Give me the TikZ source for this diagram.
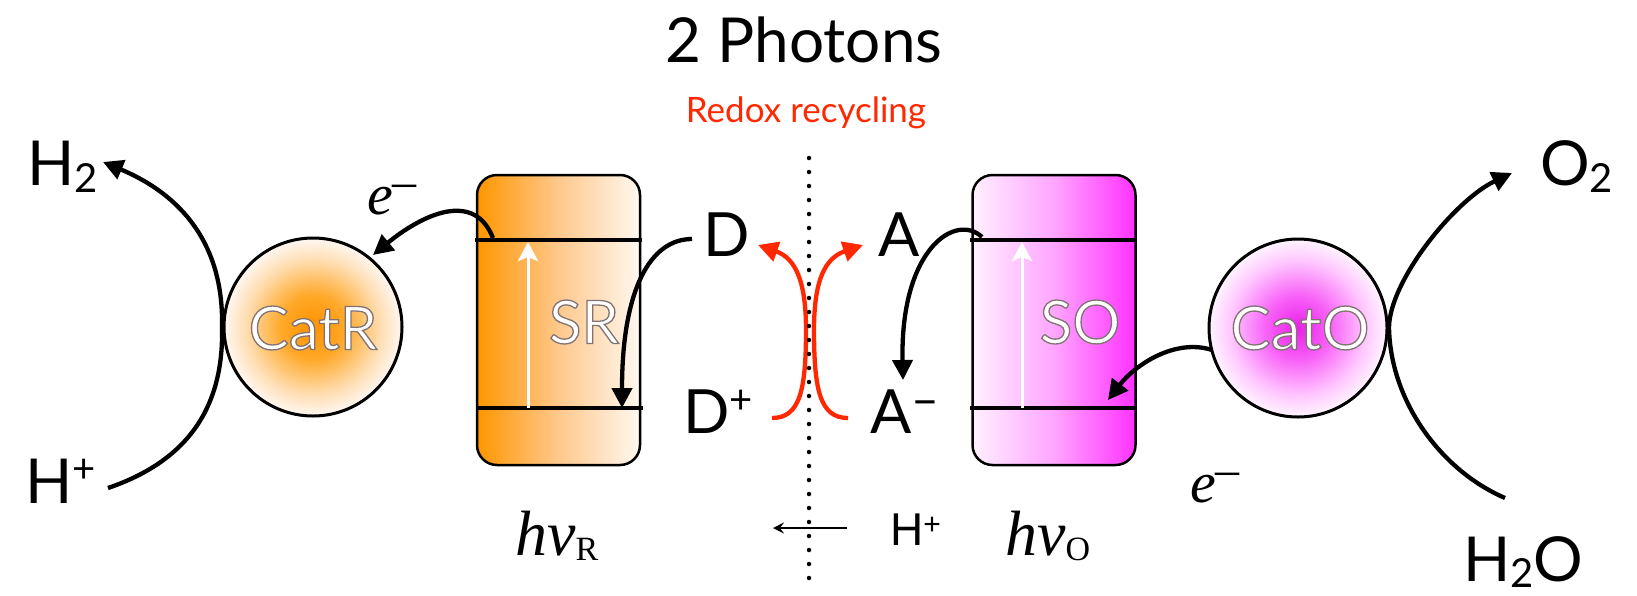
\documentclass[tikz,border=0pt]{standalone}
\usepackage{fontspec}
\setmainfont{Lato}
\newfontfamily\serifit{Liberation Serif}
\newfontfamily\helv{Liberation Sans}
\usetikzlibrary{arrows.meta}
\newcommand\fsz[1]{\fontsize{#1}{#1}\selectfont}
\definecolor{redox}{RGB}{255,40,0}
\definecolor{orL}{RGB}{255,150,0}
\definecolor{orM}{RGB}{255,200,140}
\definecolor{orR}{RGB}{255,248,240}
\definecolor{mgL}{RGB}{255,240,255}
\definecolor{mgM}{RGB}{255,165,255}
\definecolor{mgR}{RGB}{255,50,255}
\pgfdeclareradialshading{catRshade}{\pgfpoint{0bp}{0bp}}{rgb(0bp)=(1,0.57,0); rgb(9bp)=(1,0.66,0.16); rgb(19bp)=(1,0.87,0.7); rgb(25bp)=(1,0.97,0.95); rgb(50bp)=(1,0.97,0.95)}
\pgfdeclareradialshading{catOshade}{\pgfpoint{0bp}{0bp}}{rgb(0bp)=(0.92,0.12,0.92); rgb(9bp)=(0.97,0.38,0.97); rgb(19bp)=(1,0.78,1); rgb(25bp)=(1,0.96,1); rgb(50bp)=(1,0.96,1)}
% white text with a soft grey edge (text render mode fill+stroke)
\newcommand\glowtext[1]{\special{pdf:literal direct 2 Tr 1.3 w 0.5 0.45 0.45 RG}#1\special{pdf:literal direct 0 Tr}}
\begin{document}
\begin{tikzpicture}[x=1pt,y=-1pt,
  txt/.style={inner sep=0pt, anchor=base west},
  lbl/.style={inner sep=0pt, text=white, font=\fsz{60}},
  blk/.style={line width=4.3pt, -{Triangle[length=20pt,width=20pt]}},
  redarr/.style={draw=redox, line width=4.3pt, -{Triangle[length=20pt,width=20pt]}},
  level/.style={line width=4pt},
  whitearr/.style={draw=white, line width=3pt, -{Stealth[length=19pt,width=20pt,inset=4pt]}},
  cat/.style={circle, draw, line width=3pt, minimum size=178pt, inner sep=0pt},
  sbox/.style={rectangle, draw, line width=2.5pt, rounded corners=20pt, minimum width=163pt, minimum height=290pt, inner sep=0pt}]
\useasboundingbox (0,0) rectangle (1637,595);

% catalysts
\node[cat, shade, shading=catRshade] (CatR) at (313,327) {};
\node[cat, shade, shading=catOshade] (CatO) at (1298,328) {};

% sensitizer boxes
\node[sbox, left color=orL, right color=orR, middle color=orM] (SR) at (558.5,320) {};
\node[sbox, left color=mgL, right color=mgR, middle color=mgM] (SO) at (1054,320) {};

% levels
\draw[level] (475,240) -- (642,240);
\draw[level] (477,408) -- (643,408);
\draw[level] (970,240) -- (1137,240);
\draw[level] (970,408) -- (1137,408);

% excitation arrows
\coordinate (srB) at (528,408); \coordinate (srT) at (528,242);
\coordinate (soB) at (1022,408); \coordinate (soT) at (1022,242);
\draw[whitearr] (srB) -- (srT);
\draw[whitearr] (soB) -- (soT);

% labels
\node[lbl] (CatRt) at (313,328) {\glowtext{CatR}};
\node[lbl] (SRt) at (584,322) {\glowtext{SR}};
\node[lbl] (SOt) at (1080,322) {\glowtext{SO}};
\node[lbl] (CatOt) at (1300,328) {\glowtext{CatO}};

% texts
\node[inner sep=0pt, anchor=base] (title) at (804,62) {\fsz{62}2 Photons};
\node[inner sep=0pt, anchor=base, text=redox] (redoxt) at (806,122) {\fsz{35}Redox recycling};
\node[txt] (H2) at (27,185) {\fsz{62}H\raisebox{-7pt}{\fsz{40}2}};
\node[txt] (Hp) at (25,503) {\fsz{62}H\raisebox{21pt}{\fsz{40}+}};
\node[txt] (D) at (703,256) {\fsz{61}D};
\node[txt] (Dp) at (683,433) {\fsz{61}D\raisebox{20pt}{\fsz{40}+}};
\node[txt] (A) at (878,256) {\fsz{61}A};
\node[txt] (Am) at (870,433) {\fsz{61}A\raisebox{17pt}{\fsz{48}–}};
\node[txt] (O2) at (1540,185) {\fsz{62}O\raisebox{-7pt}{\fsz{40}2}};
\node[txt] (H2O) at (1463,581) {\fsz{62}H\raisebox{-6pt}{\fsz{40}2}O};
\node[txt] (e1) at (367,214) {\serifit\fsz{58}\itshape e\upshape\fsz{48}\raisebox{17pt}{–}};
\node[txt] (e2) at (1190,502) {\serifit\fsz{58}\itshape e\upshape\fsz{48}\raisebox{17pt}{–}};
\node[txt] (hvR) at (515,555) {\serifit\fsz{64}\itshape hν\upshape\raisebox{-5pt}{\fsz{34}R}};
\node[txt] (hvO) at (1005,555) {\serifit\fsz{64}\itshape hν\upshape\raisebox{-5pt}{\fsz{34}O}};
\node[txt] (Hb) at (890,545) {\helv\fsz{46}H\raisebox{11pt}{\fsz{30}+}};

% connector end points
\coordinate (hpEnd) at (108,488);
\coordinate (h2End) at (103,162);
\coordinate (h2oEnd) at (1505,498);
\coordinate (o2End) at (1512,173);
\coordinate (srTop) at (493,238);
\coordinate (catRin) at (373,255);
\coordinate (dStart) at (692,239);
\coordinate (srLow) at (622,408);
\coordinate (soTop) at (982,237);
\coordinate (aLow) at (903,380);
\coordinate (catOout) at (1212,350);
\coordinate (soLow) at (1108,400);
\coordinate (dpS) at (772,418);
\coordinate (dE) at (758,245);
\coordinate (amS) at (848,418);
\coordinate (aE) at (863,245);
\coordinate (dotTop) at (809,158);
\coordinate (dotBot) at (809,592);
\coordinate (hArrS) at (847,528);
\coordinate (hArrE) at (773,528);

% black connectors
\draw[blk] (hpEnd) .. controls (190,460) and (224,405) .. (222,327)
                    .. controls (224,245) and (182,195) .. (h2End);
\draw[blk] (h2oEnd) .. controls (1440,470) and (1390,400) .. (1389,327)
                    .. controls (1390,280) and (1455,200) .. (o2End);
\draw[blk] (srTop) .. controls (472,185) and (413,222) .. (catRin);
\draw[blk] (dStart) .. controls (650,239) and (622,290) .. (srLow);
\draw[blk] (soTop) .. controls (955,212) and (900,250) .. (aLow);
\draw[blk] (catOout) .. controls (1175,338) and (1135,365) .. (soLow);

% red recycling arrows
\draw[redarr] (dpS) .. controls (800,418) and (806,390) .. (806,330)
                    .. controls (806,280) and (795,258) .. (dE);
\draw[redarr] (amS) .. controls (820,418) and (814,390) .. (814,330)
                    .. controls (814,280) and (825,258) .. (aE);

% dotted membrane
\draw[line width=4.5pt, line cap=round, dash pattern=on 0pt off 14pt] (dotTop) -- (dotBot);

% proton arrow
\draw[line width=1.6pt, -{Stealth[length=11pt,width=11pt,inset=4pt]}] (hArrS) -- (hArrE);
\end{tikzpicture}
\end{document}
